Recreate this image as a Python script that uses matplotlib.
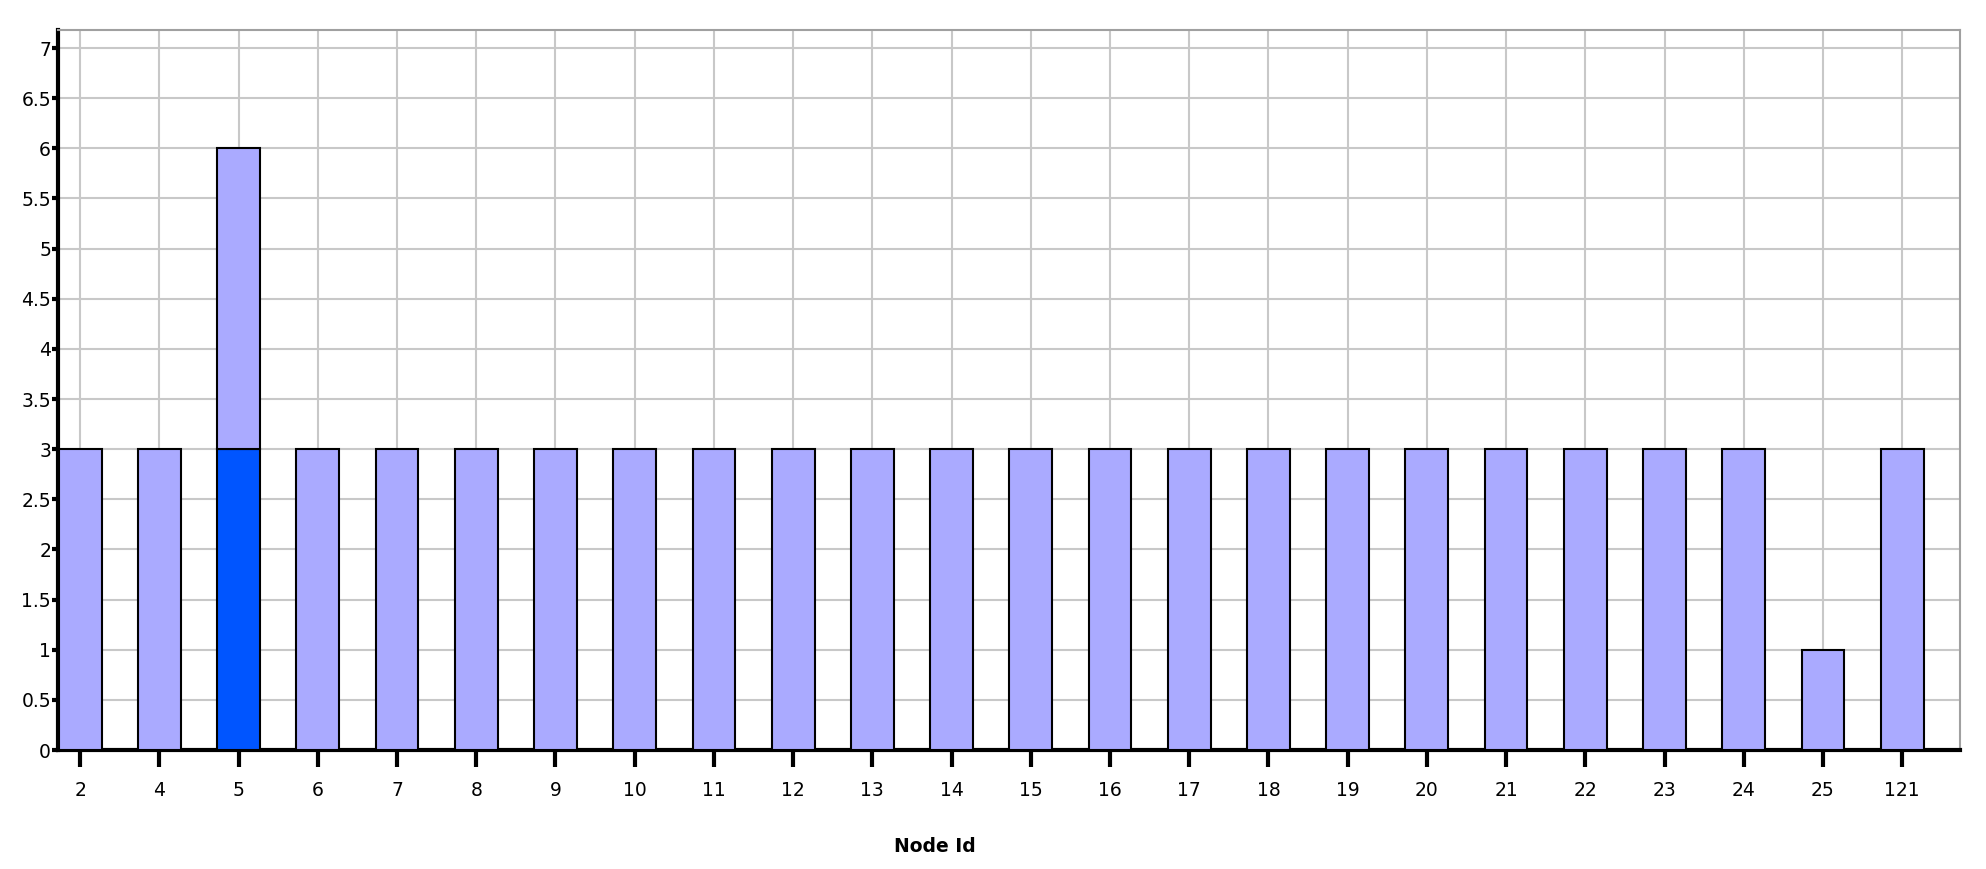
import matplotlib
matplotlib.use("Agg")
import matplotlib.pyplot as plt
from matplotlib.ticker import MultipleLocator, FuncFormatter
import numpy as np

# data
node_ids = ["2", "4", "5", "6", "7", "8", "9", "10", "11", "12", "13", "14",
            "15", "16", "17", "18", "19", "20", "21", "22", "23", "24", "25", "121"]
selected_values = [0, 0, 3, 0, 0, 0, 0, 0, 0, 0, 0, 0,
                   0, 0, 0, 0, 0, 0, 0, 0, 0, 0, 0, 0]
other_values = [3, 3, 3, 3, 3, 3, 3, 3, 3, 3, 3, 3,
                3, 3, 3, 3, 3, 3, 3, 3, 3, 3, 1, 3]

plt.rcParams['font.family'] = ['DejaVu Sans']

fig = plt.figure(figsize=(19.86, 8.69), dpi=100)
ax = fig.add_axes([58 / 1986, 119 / 869, (1960 - 58) / 1986, (750 - 30) / 869])

x = np.arange(len(node_ids))
sel = np.array(selected_values, dtype=float)
oth = np.array(other_values, dtype=float)
width = 0.54

mask = sel > 0
ax.bar(x[mask], sel[mask], width=width, color="#0055ff",
       edgecolor="black", linewidth=1.5, zorder=3)
ax.bar(x, oth, width=width, bottom=sel, color="#aaaaff",
       edgecolor="black", linewidth=1.5, zorder=3)

ax.set_xlim(-0.28, len(node_ids) - 1 + 0.73)
ax.set_ylim(0, 7.18)
ax.set_xticks(x)
ax.set_xticklabels(node_ids)
ax.yaxis.set_major_locator(MultipleLocator(0.5))
ax.yaxis.set_major_formatter(FuncFormatter(lambda v, p: "%g" % v))

ax.grid(True, color="#c8c8c8", linewidth=1.5)
ax.set_axisbelow(True)

for side in ("left", "bottom"):
    ax.spines[side].set_color("black")
    ax.spines[side].set_linewidth(3)
for side in ("top", "right"):
    ax.spines[side].set_color("#a0a0a0")
    ax.spines[side].set_linewidth(1.5)

ax.tick_params(axis="x", length=12, width=3, pad=10, labelsize=13.5)
ax.tick_params(axis="y", length=4, width=3, pad=1, labelsize=13.5)

fig.text(935 / 1986, 1 - 847 / 869, "Node Id", ha="center", va="center",
         fontsize=13.5, fontweight="bold")

fig.savefig("out.png", dpi=100, facecolor="white")
